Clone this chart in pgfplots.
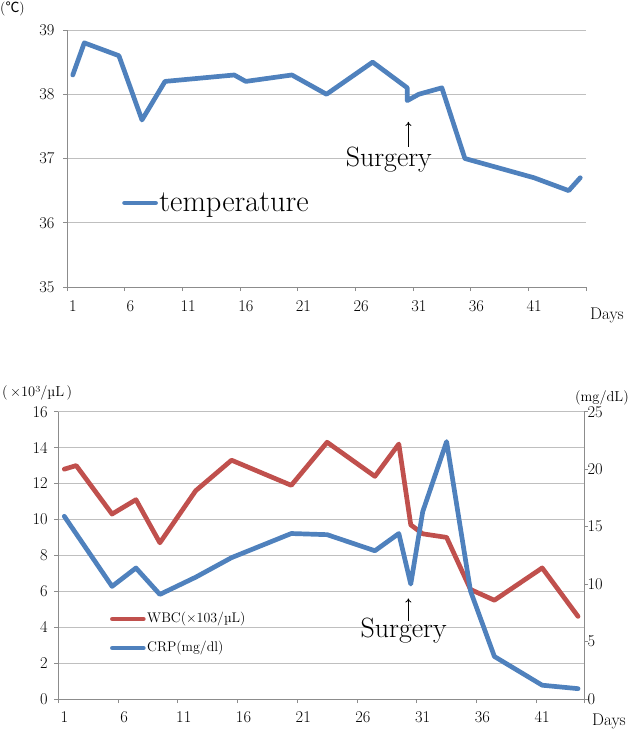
\documentclass[border=0pt]{standalone}
\usepackage{fontspec}
\usepackage{pgfplots}
\pgfplotsset{compat=1.18}
\usetikzlibrary{arrows.meta}
\newfontfamily\cjk{Noto Sans CJK JP}
\definecolor{tblue}{HTML}{4F81BD}
\definecolor{tred}{HTML}{C0504D}
\definecolor{gridc}{HTML}{BFBFBF}
\definecolor{axc}{HTML}{8C8C8C}
\pgfplotsset{
  base/.style={
    scale only axis,
    axis line style={axc, line width=0.8bp},
    grid style={gridc, line width=0.8bp},
    tick style={axc, line width=0.8bp},
    major tick length=4bp,
    tick align=outside,
    tick label style={font=\fontsize{16.5}{18}\selectfont},
    /pgf/number format/assume math mode=true,
    clip=false,
  },
  dline/.style={line width=4.7bp, line join=round, line cap=round},
}
\begin{document}
\begin{tikzpicture}
\path[use as bounding box] (0,0) rectangle (630bp,-732bp);
% ---------- top chart ----------
\begin{axis}[base,
  at={(67bp,-287bp)}, anchor=south west,
  width=519bp, height=257bp,
  xmin=0.5, xmax=45.5, ymin=35, ymax=39,
  axis x line*=bottom, axis y line*=left,
  ytick={35,36,37,38,39}, ymajorgrids,
  xtick={0.5,5.5,...,45.5},
  xticklabels={1,6,11,16,21,26,31,36,41,{}},
  xticklabel style={xshift=5.8bp, yshift=-6bp},
  yticklabel style={xshift=-5bp},
  legend style={at={(0.106,0.327)}, anchor=west, draw=none, fill=none,
    inner sep=0pt, font=\fontsize{30.5}{32}\selectfont,
    nodes={inner sep=1.5bp}},
  legend image code/.code={\draw[#1] (0bp,0bp) -- (31bp,0bp);},
]
\addplot[tblue, dline] coordinates {
(1,38.3)(2,38.8)(5,38.6)(7,37.6)(9,38.2)(15,38.3)(16,38.2)(20,38.3)(23,38.0)(27,38.5)(30,38.1)(30,37.9)(31,38.0)(33,38.1)(35,37.0)(41,36.7)(44,36.5)(45,36.7)};
\addlegendentry{temperature}
\draw[-{To[length=4bp,width=6bp]}, line width=0.8bp] (axis cs:30.1,37.18) -- (axis cs:30.1,37.57);
\node[font=\fontsize{28}{30}\selectfont, inner sep=0pt] at (axis cs:28.4,36.99) {Surgery};
\end{axis}
\node[anchor=west, inner sep=0pt, font=\fontsize{14}{16}\selectfont] at (0bp,-9bp) {({\cjk ℃})};
\node[anchor=west, inner sep=0pt, font=\fontsize{17}{19}\selectfont] at (590bp,-315bp) {Days};
% ---------- bottom chart ----------
\begin{axis}[base,
  at={(58.3bp,-699bp)}, anchor=south west,
  width=525.7bp, height=287.3bp,
  xmin=0.5, xmax=44.5, ymin=0, ymax=16,
  axis x line*=bottom, axis y line*=left,
  ytick={0,2,...,16}, ymajorgrids,
  xtick={0.5,5.5,...,40.5,44.5},
  xticklabels={1,6,11,16,21,26,31,36,41,{}},
  xticklabel style={xshift=6bp, yshift=-5bp},
  yticklabel style={xshift=-3bp},
]
\addplot[tred, dline] coordinates {
(1,12.8)(2,13.0)(5,10.3)(7,11.1)(9,8.7)(12,11.6)(15,13.3)(20,11.9)(23,14.3)(27,12.4)(29,14.2)(30,9.7)(31,9.2)(33,9.0)(35,6.1)(37,5.5)(41,7.3)(44,4.6)};
\draw[-{To[length=4bp,width=6bp]}, line width=0.8bp] (axis cs:29.8,4.35) -- (axis cs:29.8,5.6);
\node[font=\fontsize{28}{30}\selectfont, inner sep=0pt] at (axis cs:29.4,3.82) {Surgery};
\end{axis}
\begin{axis}[base,
  at={(58.3bp,-699bp)}, anchor=south west,
  width=525.7bp, height=287.3bp,
  xmin=0.5, xmax=44.5, ymin=0, ymax=25,
  axis x line=none, axis y line*=right,
  ytick={0,5,...,25},
  yticklabel style={xshift=-4bp},
  legend style={at={(0.098,0.228)}, anchor=west, draw=none, fill=none,
    inner sep=0pt, row sep=13bp, font=\fontsize{14}{16}\selectfont,
    nodes={inner sep=1.5bp, text height=10bp, text depth=3bp}},
  legend image code/.code={\draw[#1] (0bp,0bp) -- (31bp,0bp);},
  legend cell align=left,
]
\addlegendimage{tred, dline}
\addlegendentry{WBC(×103/µL)}
\addplot[tblue, dline] coordinates {
(1,15.9)(5,9.8)(7,11.4)(9,9.1)(12,10.6)(15,12.3)(20,14.4)(23,14.3)(27,12.9)(29,14.4)(30,10.0)(31,16.3)(33,22.4)(35,9.4)(37,3.7)(41,1.2)(44,0.9)};
\addlegendentry{CRP(mg/dl)}
\end{axis}
\node[anchor=west, inner sep=0pt, font=\fontsize{14.5}{16}\selectfont] at (2bp,-393bp) {(\,×10³/µL\,)};
\node[anchor=east, inner sep=0pt, font=\fontsize{14.5}{16}\selectfont] at (629bp,-398bp) {(mg/dL)};
\node[anchor=west, inner sep=0pt, font=\fontsize{17}{19}\selectfont] at (592bp,-721bp) {Days};
\end{tikzpicture}
\end{document}
